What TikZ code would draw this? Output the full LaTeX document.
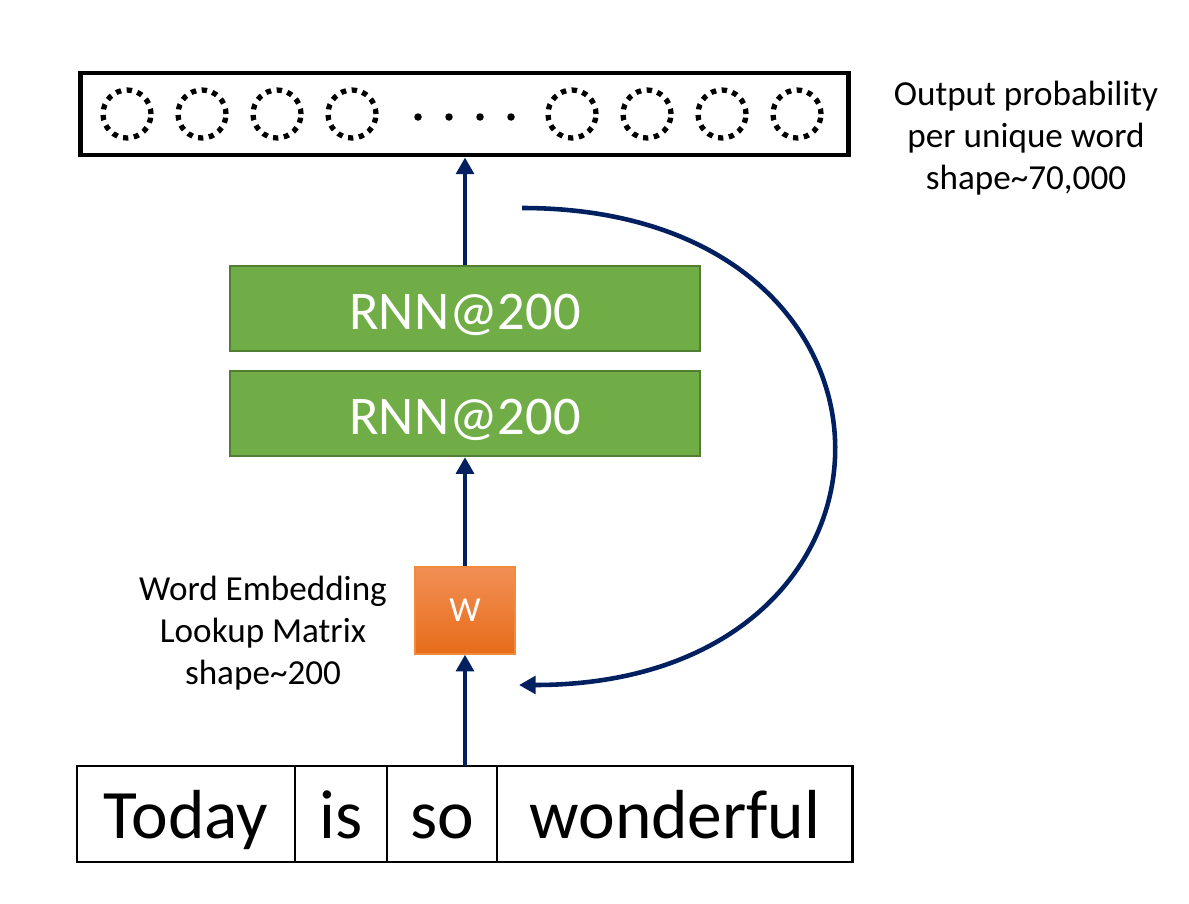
\documentclass[tikz,border=0pt]{standalone}
\usepackage{fontspec}
\setmainfont{Carlito}
\usetikzlibrary{arrows.meta,positioning}
\definecolor{navy}{HTML}{002060}
\definecolor{rnngreen}{HTML}{70AD47}
\definecolor{rnnborder}{HTML}{507E32}
\definecolor{wtop}{HTML}{F28F55}
\definecolor{wbottom}{HTML}{E66C19}
\definecolor{wborder}{HTML}{F08A3C}

\begin{document}
\begin{tikzpicture}[x=0.02cm,y=-0.02cm,
		flow/.style={draw=navy,line width=2.6pt,-{Triangle[length=9.5pt,width=10pt]}},
		rnn node/.style={rectangle,draw=rnnborder,line width=1.2pt,fill=rnngreen,text=white,minimum width=9.4cm,minimum height=1.7cm,text height=24pt,text depth=0pt,font=\fontsize{31}{36}\selectfont},
		word node/.style={rectangle,draw,line width=1.6pt,outer sep=0pt,inner sep=0pt,minimum height=1.92cm,text height=28pt,text depth=0pt,font=\fontsize{39.5}{46}\selectfont},
		unit node/.style={circle,draw,line width=3pt,dash pattern=on 3pt off 3.2pt,minimum size=0.96cm,inner sep=0pt},
		note/.style={align=center,font=\fontsize{20}{24}\selectfont}]
		
		\useasboundingbox (0,0) rectangle (1189,903);
		
		\node[rectangle,draw,line width=2.8pt,minimum width=15.38cm,minimum height=1.64cm] (out) at (464.5,114) {};
		\foreach \x [count=\i] in {127,202,277,352,572,647,722,797}
		\node[unit node] (u\i) at (\x,114) {};
		\foreach \x in {418,449,480,511}
		\fill (\x,117) circle[radius=0.075cm];
		
		\node[rnn node] (rnn2) at (465,308.5) {RNN@200};
		\node[rnn node] (rnn1) [below=0.36cm of rnn2] {RNN@200};
		\node[rectangle,draw=wborder,line width=0.8pt,top color=wtop,bottom color=wbottom,text=white,minimum width=2cm,minimum height=1.74cm,font=\fontsize{20}{24}\selectfont] (w) at (465,610.5) {W};
		
		\node[word node,minimum width=4.36cm] (today) at (186,814) {Today};
		\node[word node,minimum width=1.84cm] (is) [right=0pt of today] {is};
		\node[word node,minimum width=2.2cm] (so) [right=0pt of is] {so};
		\node[word node,minimum width=7.12cm] (wonderful) [right=0pt of so] {wonderful};
		
		\node[note] (outlabel) at (1026,138) {Output probability\\per unique word\\shape\textasciitilde 70,000};
		\node[note] (wlabel) at (263,633) {Word Embedding\\Lookup Matrix\\shape\textasciitilde 200};
		
		\coordinate (loopstart) at (522,208);
		\coordinate (loopend) at (519,685);
		
		\draw[flow] (rnn2.north) -- (rnn2.north |- out.south);
		\draw[flow] (w.north) -- (rnn1.south);
		\draw[flow] (w.south |- so.north) -- (w.south);
		\draw[flow] (loopstart) .. controls +(417,0) and +(417,0) .. (loopend);
		\end{tikzpicture}
\end{document}
